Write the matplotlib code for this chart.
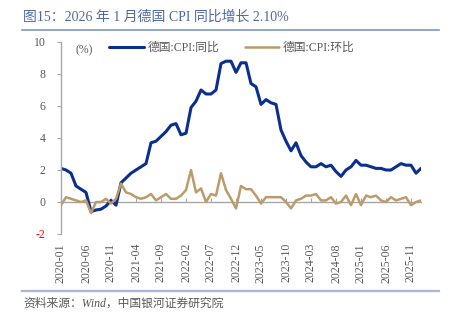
import numpy as np
import matplotlib
matplotlib.use('Agg')
import matplotlib.pyplot as plt
import pandas as pd

plt.rcParams['font.family'] = ['Liberation Serif', 'Noto Sans CJK SC', 'DejaVu Sans']

months = pd.period_range('2020-01', '2026-01', freq='M')

# 德国 CPI 同比 (%)
cpi_yoy = [2.1, 2.0, 1.8, 1.0, 0.8, 0.6, -0.6, -0.5, -0.45, -0.25, 0.1, -0.2,
           1.2, 1.5, 1.8, 2.0, 2.2, 2.4, 3.7, 3.8, 4.1, 4.4, 4.8, 4.9,
           4.2, 4.3, 5.9, 6.3, 7.0, 6.75, 6.75, 7.0, 8.65, 8.8, 8.8, 8.1,
           8.7, 8.7, 7.4, 7.2, 6.1, 6.4, 6.2, 6.1, 4.5, 3.8, 3.2, 3.7,
           2.9, 2.5, 2.2, 2.2, 2.4, 2.2, 2.3, 1.9, 1.6, 2.0, 2.2, 2.6,
           2.3, 2.3, 2.2, 2.1, 2.1, 2.0, 2.0, 2.2, 2.4, 2.3, 2.3, 1.8,
           2.1]

# 德国 CPI 环比 (%)
cpi_mom = [-0.2, 0.3, 0.2, 0.1, 0.0, 0.1, -0.7, 0.0, 0.0, 0.2, -0.1, 0.2,
           1.15, 0.6, 0.5, 0.3, 0.2, 0.3, 0.5, 0.1, 0.3, 0.5, 0.2, 0.2,
           0.4, 0.75, 2.0, 0.6, 0.85, 0.0, 0.5, 0.4, 1.8, 0.75, 0.2, -0.4,
           1.0, 0.8, 0.8, 0.4, -0.1, 0.3, 0.3, 0.3, 0.3, 0.0, -0.4, 0.1,
           0.2, 0.4, 0.4, 0.5, 0.1, 0.1, 0.3, -0.1, 0.0, 0.4, -0.2, 0.5,
           -0.2, 0.4, 0.3, 0.4, 0.1, 0.0, 0.3, 0.1, 0.2, 0.3, -0.2, 0.0,
           0.1]

tick_labels = ['2020-01', '2020-06', '2020-11', '2021-04', '2021-09', '2022-02',
               '2022-07', '2022-12', '2023-05', '2023-10', '2024-03', '2024-08',
               '2025-01', '2025-06', '2025-11']
y_ticks = [-2, 0, 2, 4, 6, 8, 10]

title = '图15：2026 年 1 月德国 CPI 同比增长 2.10%'
source = '资料来源：Wind，中国银河证券研究院'

blue = '#0b2f8f'
tan = '#bb9b6c'
grey = '#a6a6a6'
text_grey = '#595959'

fig = plt.figure(figsize=(4.49, 3.25), dpi=100)
ax = fig.add_axes([61 / 449, 1 - 234 / 325, 360 / 449, 192 / 325])

x = np.arange(len(months))
ax.plot(x, cpi_yoy, color=blue, lw=2.2, label='德国:CPI:同比', solid_capstyle='round')
ax.plot(x, cpi_mom, color=tan, lw=1.8, label='德国:CPI:环比', solid_capstyle='round')

ax.set_xlim(0, len(months) - 1)
ax.set_ylim(-2, 10)

tick_pos = [list(months.strftime('%Y-%m')).index(t) for t in tick_labels]
ax.set_xticks(tick_pos)
ax.set_xticklabels(tick_labels, rotation=90, fontsize=8.5, color=text_grey)
ax.tick_params(axis='x', length=0, pad=6.5)

ax.set_yticks(y_ticks)
ax.set_yticklabels([str(v) for v in y_ticks], fontsize=8.5, color=text_grey)
ax.get_yticklabels()[0].set_color('#ff0000')
ax.tick_params(axis='y', direction='out', length=3, width=0.8, color=grey, pad=8)

for side in ['top', 'right', 'bottom']:
    ax.spines[side].set_visible(False)
ax.spines['left'].set_color(grey)
ax.spines['left'].set_linewidth(1.0)

# zero line acts as the category axis, ticks pointing up
zero_ax = ax.secondary_xaxis(2 / 12)
zero_ax.set_xticks(tick_pos)
zero_ax.set_xticklabels([])
zero_ax.tick_params(direction='in', length=3, width=0.8, color=grey)
zero_ax.spines['bottom'].set_color(grey)
zero_ax.spines['bottom'].set_linewidth(1.0)

ax.text(0.04, 0.955, '(%)', transform=ax.transAxes, fontsize=8.5,
        color=text_grey, va='center', ha='left')

ax.legend(loc='center', bbox_to_anchor=(0.475, 0.969), ncol=2, frameon=False,
          fontsize=8.5, handlelength=2.9, columnspacing=2.2, handletextpad=0.3,
          labelcolor=text_grey)

fig.text(23 / 449, 1 - 17 / 325, title, fontsize=10, color='#4d6aa8',
         va='center', ha='left')
fig.add_artist(plt.Line2D([22 / 449, 439 / 449], [1 - 29.5 / 325] * 2,
                          color='#7e95c3', lw=1.2))
fig.add_artist(plt.Line2D([22 / 449, 439 / 449], [1 - 291 / 325] * 2,
                          color='#a9b6d3', lw=1.6))
fig.text(23 / 449, 1 - 304 / 325, source, fontsize=8.5, color=text_grey,
         va='center', ha='left', style='italic')

fig.savefig('out.png', dpi=100)
